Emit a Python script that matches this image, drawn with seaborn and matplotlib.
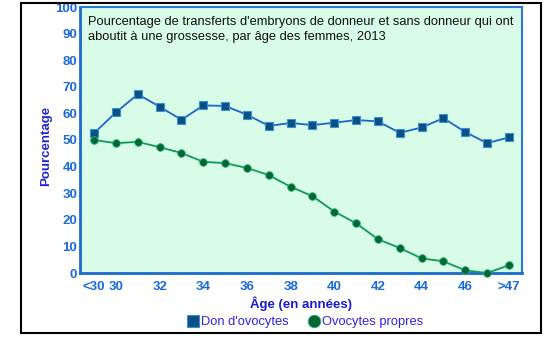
import matplotlib
matplotlib.use("Agg")
import matplotlib.pyplot as plt
import seaborn as sns
import pandas as pd
from matplotlib.patches import Rectangle
from matplotlib.lines import Line2D

categories = ["<30", "30", "31", "32", "33", "34", "35", "36", "37", "38",
              "39", "40", "41", "42", "43", "44", "45", "46", "47", ">47"]
don_ovocytes = [52.6, 60.4, 67.2, 62.5, 57.6, 63.0, 62.8, 59.5, 55.3, 56.4,
                55.6, 56.5, 57.5, 57.0, 52.7, 54.7, 58.2, 53.0, 48.8, 51.0]
ovocytes_propres = [50.0, 48.8, 49.3, 47.3, 45.1, 41.8, 41.3, 39.5, 36.8, 32.4,
                    28.9, 23.1, 18.7, 12.7, 9.4, 5.5, 4.4, 1.0, 0.0, 2.9]
tick_labels = ["<30", "30", "", "32", "", "34", "", "36", "", "38",
               "", "40", "", "42", "", "44", "", "46", "", ">47"]
yticks = [0, 10, 20, 30, 40, 50, 60, 70, 80, 90, 100]
title = ("Pourcentage de transferts d'embryons de donneur et sans donneur qui ont\n"
         "aboutit à une grossesse, par âge des femmes, 2013")

sns.set_style("white")
plt.rcParams["font.family"] = ["Liberation Sans", "DejaVu Sans"]

idx = list(range(len(categories)))
df = pd.DataFrame({"idx": idx, "don": don_ovocytes, "propres": ovocytes_propres})

fig = plt.figure(figsize=(5.47, 3.38), dpi=100)
ax = fig.add_axes([80/547, 1-273/338, (522-80)/547, (273-7)/338])
ax.set_facecolor("#d9fce8")

sns.lineplot(data=df, x="idx", y="don", ax=ax, color="#1a66c8", lw=1.3,
             marker="s", markersize=5.8, markerfacecolor="#0b4f85",
             markeredgecolor="#3d8fd0", markeredgewidth=0.8, clip_on=False,
             label="Don d'ovocytes", zorder=3)
sns.lineplot(data=df, x="idx", y="propres", ax=ax, color="#0c9a5c", lw=1.3,
             marker="o", markersize=5.5, markerfacecolor="#006634",
             markeredgecolor="#2fae70", markeredgewidth=0.6, clip_on=False,
             label="Ovocytes propres", zorder=3)

ax.set_xlim(-0.65, 19.6)
ax.set_ylim(0, 100)
ax.set_xticks(idx)
ax.set_xticklabels(tick_labels)
ax.set_yticks(yticks)

tickcol = "#1a6ad8"
ax.tick_params(axis="x", direction="in", length=5, width=1.2, color="#6fbde8",
               labelcolor=tickcol, labelsize=9.5, pad=6)
ax.tick_params(axis="y", direction="in", length=7, width=1.2, color="#6fbde8",
               labelcolor=tickcol, labelsize=9.5, pad=2)
for lab in ax.get_xticklabels() + ax.get_yticklabels():
    lab.set_fontweight("bold")

for s in ["left", "bottom"]:
    ax.spines[s].set_color("#1a6ad0")
    ax.spines[s].set_linewidth(2.0)
for s in ["top", "right"]:
    ax.spines[s].set_color("#2a78d0")
    ax.spines[s].set_linewidth(1.5)

ax.set_xlabel("Âge (en années)", fontsize=9.5, fontweight="bold", color="#1a1ad0", labelpad=2)
ax.set_ylabel("Pourcentage", fontsize=9.5, fontweight="bold", color="#2323d0")
ax.yaxis.set_label_coords((52-80)/442, (273-146)/266)

ax.text(0.018, 0.965, title, transform=ax.transAxes, ha="left", va="top",
        fontsize=9.3, color="#111111", linespacing=1.25)

ax.get_legend().remove()
h1 = Line2D([], [], ls="none", marker="s", markersize=9, markerfacecolor="#0b4f85",
            markeredgecolor="#3d8fd0", markeredgewidth=0.8)
h2 = Line2D([], [], ls="none", marker="o", markersize=9, markerfacecolor="#006634",
            markeredgecolor="#2fae70", markeredgewidth=0.6)
leg = fig.legend([h1, h2], ["Don d'ovocytes", "Ovocytes propres"], loc="center",
                 bbox_to_anchor=(305/547, 1-322/338), ncol=2, frameon=False,
                 fontsize=9.3, handletextpad=0.1, columnspacing=1.5, handlelength=1.0)
for t in leg.get_texts():
    t.set_color("#3322dd")

fig.patches.append(Rectangle((21/547, 1-333/338), (541-21)/547, (333-3)/338,
                             transform=fig.transFigure, fill=False,
                             edgecolor="black", lw=1.5, zorder=0))

fig.savefig("out.png", dpi=100)
